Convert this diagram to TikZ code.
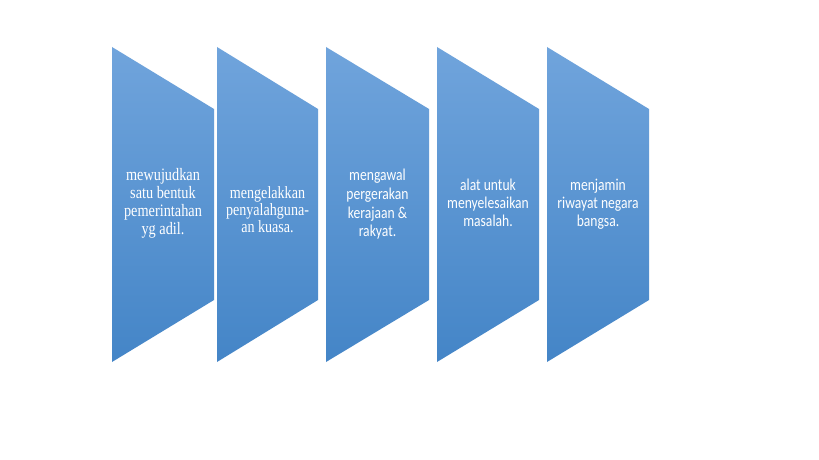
\documentclass[tikz,border=0pt]{standalone}
\usepackage{fontspec}
\usepackage{graphicx}
\setmainfont{Liberation Serif}
\newfontfamily\carlfont{Carlito}
\definecolor{chevtop}{RGB}{112,164,220}
\definecolor{chevbot}{RGB}{68,133,199}
\newcommand{\tallstack}[1]{\scalebox{1}[1.22]{\begin{tabular}{@{}c@{}}#1\end{tabular}}}
\tikzset{
  chev/.style={top color=chevtop, bottom color=chevbot, draw=none},
  serlabel/.style={text=white, align=center, inner sep=0pt, font=\fontsize{14.3}{14.8}\selectfont},
  sanslabel/.style={text=white, align=center, inner sep=0pt, font=\carlfont\fontsize{13.6}{14.8}\selectfont}
}
\begin{document}
\begin{tikzpicture}[x=1pt,y=-1pt]
\useasboundingbox (0,0) rectangle (819,460);
\fill[white] (0,0) rectangle (819,460);
% chevrons
\foreach \xl/\xr in {112/214, 217/318, 326/429, 437/539, 547/649}{
  \path[chev] (\xl,47) -- (\xr,109) -- (\xr,300) -- (\xl,362) -- cycle;
}
\node[serlabel] (t1) at (163,204) {\tallstack{mewujudkan\\satu bentuk\\pemerintahan\\yg adil.}};
\node[serlabel, font=\fontsize{14.1}{13.8}\selectfont] (t2) at (267.5,212.5) {\tallstack{mengelakkan\\penyalahguna-\\an kuasa.}};
\node[sanslabel, font=\carlfont\fontsize{13.6}{15.3}\selectfont] (t3) at (377.5,205) {\tallstack{mengawal\\pergerakan\\kerajaan \&\\rakyat.}};
\node[sanslabel, font=\carlfont\fontsize{13.6}{14.4}\selectfont] (t4) at (488,205) {\tallstack{alat untuk\\menyelesaikan\\masalah.}};
\node[sanslabel] (t5) at (598,205) {\tallstack{menjamin\\riwayat negara\\bangsa.}};
\end{tikzpicture}
\end{document}
